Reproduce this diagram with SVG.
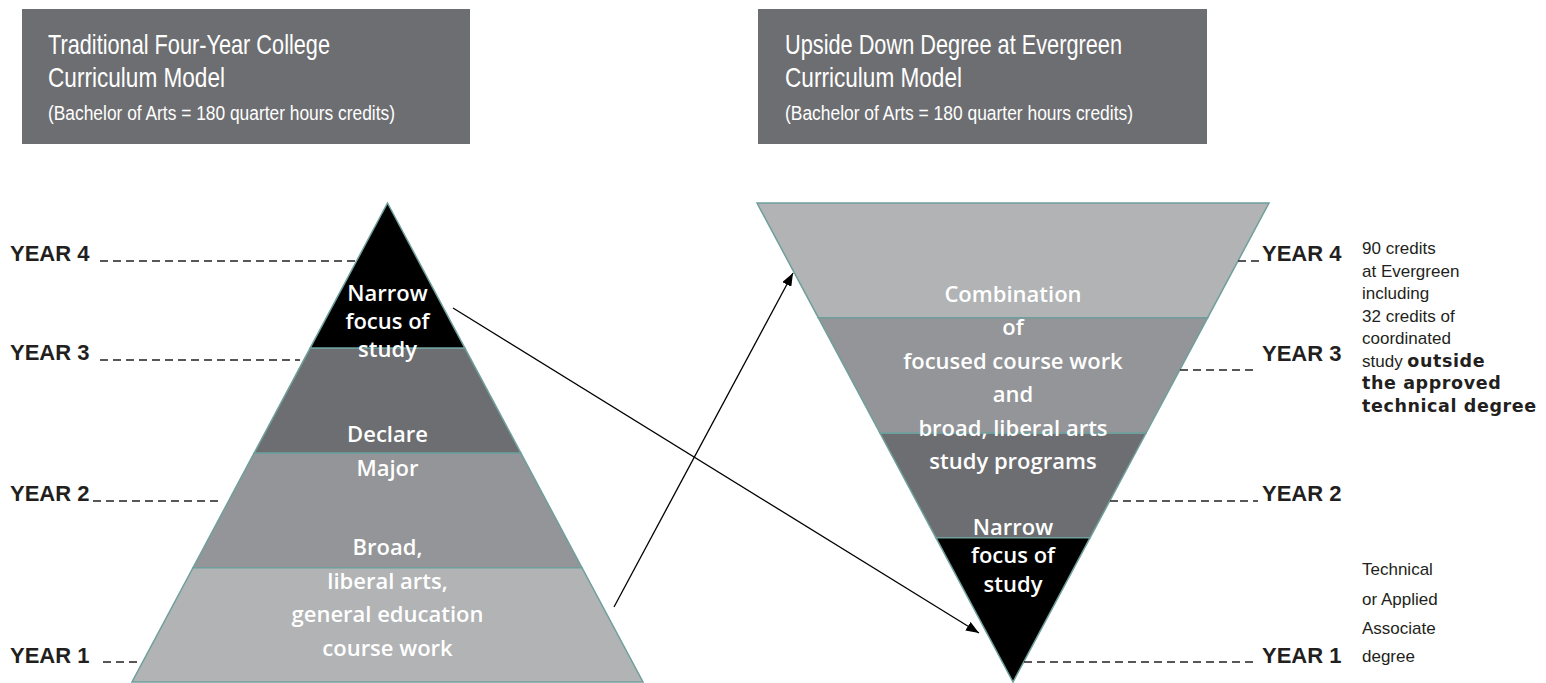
<svg xmlns="http://www.w3.org/2000/svg" width="1546" height="683" viewBox="0 0 1546 683">
<defs>
<style>
.hdr{fill:#6d6e71}
.t1{font-family:"Liberation Sans Narrow","Liberation Sans",Arial,sans-serif;font-size:28px;fill:#ffffff}
.t2{font-family:"Liberation Sans Narrow","Liberation Sans",Arial,sans-serif;font-size:20px;fill:#ffffff}
.band{stroke:#6f9f9c;stroke-width:1.5;stroke-linejoin:miter}
.blk{fill:#000000}.dk{fill:#6d6e71}.md{fill:#939598}.lt{fill:#b1b3b5}
.pt{font-family:"Open Sans","Noto Sans",sans-serif;font-weight:600;font-size:22px;fill:#ffffff;text-anchor:middle}
.yr{font-family:"Liberation Sans",Arial,sans-serif;font-weight:bold;font-size:22px;fill:#231f20}
.dash{stroke:#231f20;stroke-width:1.5;stroke-dasharray:8 5;fill:none}
.note{font-family:"Liberation Sans",Arial,sans-serif;font-size:17px;fill:#231f20}
.noteb{font-family:"DejaVu Sans",sans-serif;font-weight:bold;font-size:17.5px;letter-spacing:0.6px}
.arr{stroke:#000000;stroke-width:1.3;fill:none;marker-end:url(#ah)}
</style>
<marker id="ah" markerUnits="userSpaceOnUse" markerWidth="14" markerHeight="10" refX="13" refY="5" orient="auto"><path d="M0,0 L13,5 L0,10 z" fill="#000000"/></marker>
</defs>

<g id="title-traditional">
<rect class="hdr" x="22" y="9" width="448" height="135"/>
<text class="t1" x="48" y="54" textLength="282" lengthAdjust="spacingAndGlyphs">Traditional Four-Year College</text>
<text class="t1" x="48" y="87" textLength="177" lengthAdjust="spacingAndGlyphs">Curriculum Model</text>
<text class="t2" x="48" y="120" textLength="347" lengthAdjust="spacingAndGlyphs">(Bachelor of Arts = 180 quarter hours credits)</text>
</g>

<g id="title-evergreen">
<rect class="hdr" x="758" y="9" width="449" height="135"/>
<text class="t1" x="785" y="54" textLength="337" lengthAdjust="spacingAndGlyphs">Upside Down Degree at Evergreen</text>
<text class="t1" x="785" y="87" textLength="177" lengthAdjust="spacingAndGlyphs">Curriculum Model</text>
<text class="t2" x="785" y="120" textLength="348" lengthAdjust="spacingAndGlyphs">(Bachelor of Arts = 180 quarter hours credits)</text>
</g>

<g id="trad-year4-band"><polygon class="band blk" points="387.5,203 465,348.3 310,348.3"/></g>
<g id="trad-year3-band"><polygon class="band dk" points="310,348.3 465,348.3 521,453.3 254,453.3"/></g>
<g id="trad-year2-band"><polygon class="band md" points="254,453.3 521,453.3 582,567.7 193,567.7"/></g>
<g id="trad-year1-band"><polygon class="band lt" points="193,567.7 582,567.7 643,682 132,682"/></g>

<g id="ever-top-band"><polygon class="band lt" points="757,203 1269,203 1207.7,317.7 818.3,317.7"/></g>
<g id="ever-second-band"><polygon class="band md" points="818.3,317.7 1207.7,317.7 1145.9,433.3 880.1,433.3"/></g>
<g id="ever-third-band"><polygon class="band dk" points="880.1,433.3 1145.9,433.3 1090.1,537.7 935.9,537.7"/></g>
<g id="ever-bottom-band"><polygon class="band blk" points="935.9,537.7 1090.1,537.7 1013,682"/></g>

<g id="trad-narrow-label">
<text class="pt" x="387.5" y="301">Narrow</text>
<text class="pt" x="387.5" y="329">focus of</text>
<text class="pt" x="387.5" y="357">study</text>
</g>
<g id="trad-declare-label">
<text class="pt" x="387.5" y="442">Declare</text>
<text class="pt" x="387.5" y="476">Major</text>
</g>
<g id="trad-broad-label">
<text class="pt" x="387.5" y="555">Broad,</text>
<text class="pt" x="387.5" y="589">liberal arts,</text>
<text class="pt" x="387.5" y="622">general education</text>
<text class="pt" x="387.5" y="656">course work</text>
</g>

<g id="ever-combination-label">
<text class="pt" x="1013" y="302">Combination</text>
<text class="pt" x="1013" y="335">of</text>
<text class="pt" x="1013" y="369">focused course work</text>
<text class="pt" x="1013" y="402">and</text>
<text class="pt" x="1013" y="436">broad, liberal arts</text>
<text class="pt" x="1013" y="469">study programs</text>
</g>
<g id="ever-narrow-label">
<text class="pt" x="1013" y="535">Narrow</text>
<text class="pt" x="1013" y="563">focus of</text>
<text class="pt" x="1013" y="592">study</text>
</g>

<g id="trad-year-labels">
<text class="yr" x="10" y="261">YEAR 4</text>
<text class="yr" x="10" y="360">YEAR 3</text>
<text class="yr" x="10" y="501">YEAR 2</text>
<text class="yr" x="10" y="663">YEAR 1</text>
</g>
<g id="ever-year-labels">
<text class="yr" x="1262" y="261">YEAR 4</text>
<text class="yr" x="1262" y="361">YEAR 3</text>
<text class="yr" x="1262" y="501">YEAR 2</text>
<text class="yr" x="1262" y="663">YEAR 1</text>
</g>

<g id="ever-credits-note">
<text class="note" x="1362" y="254">90 credits</text>
<text class="note" x="1362" y="276.5">at Evergreen</text>
<text class="note" x="1362" y="299">including</text>
<text class="note" x="1362" y="321.5">32 credits of</text>
<text class="note" x="1362" y="344">coordinated</text>
<text class="note" x="1362" y="366.5">study <tspan class="noteb">outside</tspan></text>
<text class="note" x="1362" y="389"><tspan class="noteb">the approved</tspan></text>
<text class="note" x="1362" y="411.5"><tspan class="noteb">technical degree</tspan></text>
</g>
<g id="ever-associate-note">
<text class="note" x="1362" y="575">Technical</text>
<text class="note" x="1362" y="605">or Applied</text>
<text class="note" x="1362" y="634">Associate</text>
<text class="note" x="1362" y="662">degree</text>
</g>

<g id="connectors">
<line class="dash" x1="100" y1="261" x2="357" y2="261"/>
<line class="dash" x1="100" y1="360" x2="300" y2="360"/>
<line class="dash" x1="93" y1="501" x2="223" y2="501"/>
<line class="dash" x1="103" y1="662" x2="142" y2="662"/>
<line class="dash" x1="1238" y1="261" x2="1260" y2="261"/>
<line class="dash" x1="1180" y1="370" x2="1258" y2="370"/>
<line class="dash" x1="1110" y1="501" x2="1258" y2="501"/>
<line class="dash" x1="1024" y1="662" x2="1258" y2="662"/>
<line class="arr" x1="614" y1="607" x2="793" y2="273"/>
<line class="arr" x1="453" y1="308" x2="979" y2="633"/>
</g>
</svg>
